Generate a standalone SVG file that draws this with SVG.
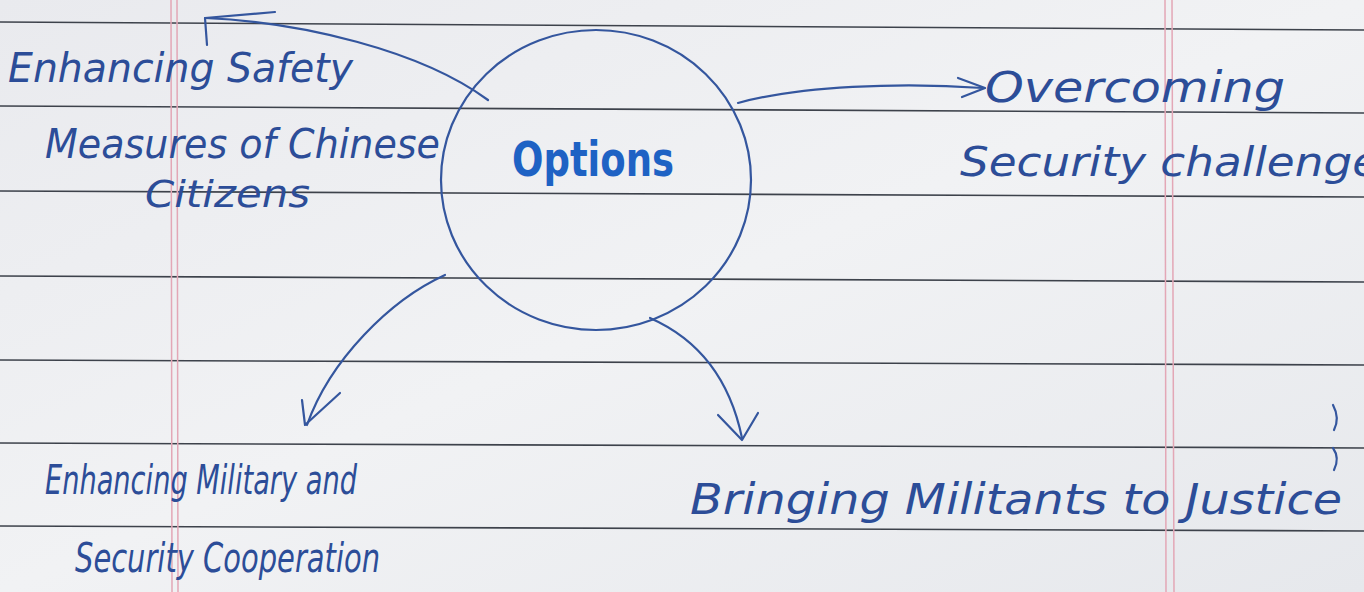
<svg xmlns="http://www.w3.org/2000/svg" width="1364" height="592" viewBox="0 0 1364 592">
<defs>
<linearGradient id="paper" x1="0" y1="0" x2="1" y2="1">
<stop offset="0" stop-color="#e9eaee"/>
<stop offset="0.5" stop-color="#f1f2f4"/>
<stop offset="1" stop-color="#e6e8ec"/>
</linearGradient>
<style>
.rule{stroke:#3d424b;stroke-width:1.6;fill:none}
.margin{stroke:#e3a7b6;stroke-width:1.5;fill:none}
.ink{fill:#2c4d98;font-family:"DejaVu Sans",sans-serif;font-style:italic}
.opt{fill:#1e62c4;font-family:"DejaVu Sans",sans-serif;font-weight:bold}
.con{stroke:#34569e;stroke-width:2.2;fill:none;stroke-linecap:round;stroke-linejoin:round}
.node{stroke:#34569e;stroke-width:2.2;fill:none}
</style>
</defs>
<rect width="1364" height="592" fill="url(#paper)"/>
<g id="paper-lines">
<path class="rule" d="M0,22 L1364,30"/>
<path class="rule" d="M0,106 L1364,113"/>
<path class="rule" d="M0,191 L1364,197"/>
<path class="rule" d="M0,276 L1364,282"/>
<path class="rule" d="M0,360 L1364,365"/>
<path class="rule" d="M0,443 L1364,448"/>
<path class="rule" d="M0,526 L1364,531"/>
<path class="margin" d="M171,0 L172,592 M177,0 L178,592"/>
<path class="margin" d="M1165,0 L1166,592 M1172,0 L1174,592"/>
</g>
<g id="connectors">
<path class="con" d="M488,100 C420,50 300,22 205,18"/>
<path class="con" d="M275,12 L205,18 L207,45"/>
<path class="con" d="M738,103 C800,86 900,82 983,88"/>
<path class="con" d="M958,78 L985,88 L962,97"/>
<path class="con" d="M445,275 C390,300 330,360 307,425"/>
<path class="con" d="M302,400 L305,425 L340,393"/>
<path class="con" d="M650,318 C700,340 730,380 742,438"/>
<path class="con" d="M718,415 L742,440 L758,413"/>
</g>
<g id="node-options">
<ellipse class="node" cx="596" cy="180" rx="155" ry="150"/>
<text class="opt" x="512" y="176" font-size="48" textLength="162" lengthAdjust="spacingAndGlyphs">Options</text>
</g>
<g id="node-safety">
<text class="ink" x="8" y="82" font-size="40" textLength="345" lengthAdjust="spacingAndGlyphs">Enhancing Safety</text>
<text class="ink" x="45" y="158" font-size="40" textLength="395" lengthAdjust="spacingAndGlyphs">Measures of Chinese</text>
<text class="ink" x="145" y="207" font-size="38" textLength="165" lengthAdjust="spacingAndGlyphs">Citizens</text>
</g>
<g id="node-overcoming">
<text class="ink" x="985" y="102" font-size="42" textLength="300" lengthAdjust="spacingAndGlyphs">Overcoming</text>
<text class="ink" x="960" y="176" font-size="40" textLength="420" lengthAdjust="spacingAndGlyphs">Security challenge</text>
</g>
<g id="node-military">
<text class="ink" x="45" y="494" font-size="40" textLength="312" lengthAdjust="spacingAndGlyphs">Enhancing Military and</text>
<text class="ink" x="75" y="572" font-size="40" textLength="305" lengthAdjust="spacingAndGlyphs">Security Cooperation</text>
</g>
<g id="node-justice">
<text class="ink" x="690" y="514" font-size="42" textLength="652" lengthAdjust="spacingAndGlyphs">Bringing Militants to Justice</text>
</g>
<g id="marks">
<path class="con" d="M1333,405 Q1340,418 1334,430 M1333,448 Q1340,458 1334,470" stroke-width="1.6"/>
</g>
</svg>
